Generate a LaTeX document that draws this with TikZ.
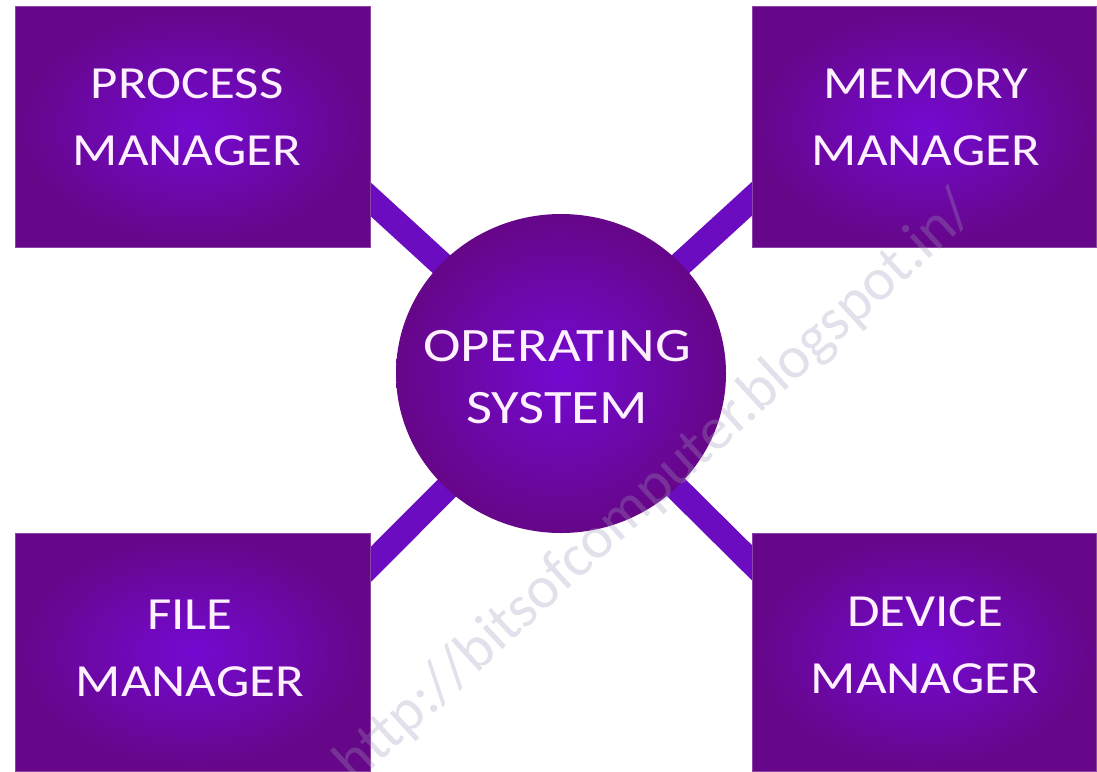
\documentclass[tikz,border=0pt]{standalone}
\usepackage{fontspec}
\setmainfont{Carlito}
\usetikzlibrary{calc,backgrounds,shapes.geometric}
\definecolor{violetcore}{RGB}{116,10,210}
\definecolor{purpleedge}{RGB}{102,6,136}
\definecolor{barviolet}{RGB}{108,12,192}
\definecolor{labelwhite}{RGB}{255,240,255}
\definecolor{markgray}{RGB}{160,152,184}
\begin{document}
\begin{tikzpicture}[x=1pt,y=-1pt,
  mgrbox/.style={rectangle, inner sep=0pt, inner color=violetcore, outer color=purpleedge,
    draw=purpleedge!75!white, line width=0.6pt},
  hub/.style={ellipse, inner sep=0pt, minimum width=330pt, minimum height=319pt,
    inner color=violetcore, outer color=purpleedge},
  caption/.style={text=labelwhite, align=center, xscale=1.15, font=\fontsize{46}{67}\selectfont},
  hubcaption/.style={text=labelwhite, align=center, xscale=1.18, font=\fontsize{48}{62}\selectfont},
  bar/.style={draw=barviolet, line width=25pt, shorten >=-40pt},
  watermark/.style={rotate=42.5, text=markgray, opacity=0.3, font=\fontsize{60}{60}\selectfont}]
\useasboundingbox (0,0) rectangle (1097,771);

% the four manager boxes
\node[mgrbox, minimum width=355pt, minimum height=241pt] (pm) at (192.5,126.5) {};
\node[mgrbox, minimum width=344pt, minimum height=241pt] (mm) at (924,126.5) {};
\node[mgrbox, minimum width=355pt, minimum height=238pt] (fm) at (192.5,652) {};
\node[mgrbox, minimum width=344pt, minimum height=238pt] (dm) at (924,652) {};

% central hub
\node[hub] (os) at (561,373.5) {};

% spokes from the hub to each box, kept underneath
\begin{scope}[on background layer]
  \draw[bar] (os.center) -- ($(pm.east)!0.6!(pm.south east)$);
  \draw[bar] (os.center) -- ($(mm.west)!0.6!(mm.south west)$);
  \draw[bar] (os.center) -- ($(fm.north east)!0.27!(fm.east)$);
  \draw[bar] (os.center) -- ($(dm.north west)!0.25!(dm.west)$);
\end{scope}

% captions
\node[caption] (pmtext) at (187,117) {PROCESS\\MANAGER};
\node[caption] (mmtext) at (926,117) {MEMORY\\MANAGER};
\node[caption] (fmtext) at (190,648) {FILE\\MANAGER};
\node[caption] (dmtext) at (925,645) {DEVICE\\MANAGER};
\node[hubcaption] (ostext) at (557,377) {OPERATING\\SYSTEM};

% site address across the picture
\node[watermark] (wm) at (656,488) {http://bitsofcomputer.blogspot.in/};
\end{tikzpicture}
\end{document}
